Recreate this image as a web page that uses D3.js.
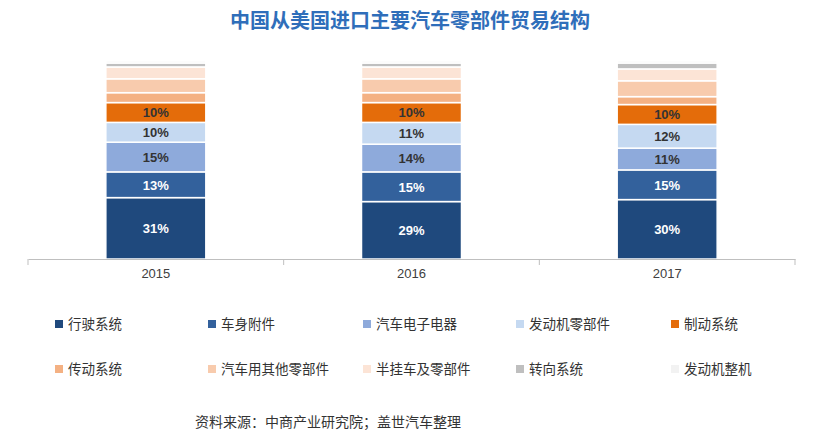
<!DOCTYPE html>
<html><head><meta charset="utf-8">
<script src="https://cdn.jsdelivr.net/npm/d3@7"></script>
<style>body{margin:0;background:#fff}svg{font-family:"Noto Sans CJK SC",sans-serif}</style>
</head><body><svg id="c" width="820" height="445"></svg>
<script>
const years = ["2015", "2016", "2017"];
const parts = ["行驶系统", "车身附件", "汽车电子电器", "发动机零部件", "制动系统", "传动系统", "汽车用其他零部件", "半挂车及零部件", "转向系统", "发动机整机"];
const colors = ["#1f497d", "#33619c", "#8eaadb", "#c5d9f1", "#e46c0a", "#f4b183", "#f8cbad", "#fce4d6", "#bfbfbf", "#f2f2f2"];
const share2015 = [31, 13, 15, 10, 10, 5, 7, 6, 2, 1];
const share2016 = [29, 15, 14, 11, 10, 5, 7, 6, 2, 1];
const share2017 = [30, 15, 11, 12, 10, 4, 8, 6, 3, 1];
const labelled = 5;

const shares = [share2015, share2016, share2017];
const svg = d3.select("#c");
svg.append("text").attr("x", 410).attr("y", 28).attr("text-anchor", "middle")
  .attr("font-size", 20).attr("font-weight", "bold").attr("fill", "#2f6eba").text("中国从美国进口主要汽车零部件贸易结构");

const x = d3.scaleBand().domain(years).range([28, 795]).paddingInner(0).paddingOuter(0);
const y = d3.scaleLinear().domain([0, 100]).range([259, 61]);
const bw = 100;

years.forEach((yr, i) => {
  let acc = 0;
  const g = svg.append("g");
  shares[i].forEach((v, k) => {
    const y0 = acc, y1 = acc + v; acc = y1;
    const cx = x(yr) + x.bandwidth() / 2;
    g.append("rect").attr("x", cx - bw / 2).attr("width", bw)
      .attr("y", y(y1)).attr("height", y(y0) - y(y1))
      .attr("fill", colors[k]).attr("stroke", "#fff").attr("stroke-width", 1.5);
    if (k < labelled) {
      g.append("text").attr("x", cx).attr("y", (y(y0) + y(y1)) / 2 + 5)
        .attr("text-anchor", "middle").attr("font-size", 13).attr("font-weight", "bold")
        .attr("font-family", "Arial, Liberation Sans, sans-serif")
        .attr("fill", k < 2 ? "#fff" : "#333").text(v + "%");
    }
  });
});

const axis = svg.append("g").attr("transform", "translate(0,259)")
  .call(d3.axisBottom(x).tickSize(0).tickPadding(10));
axis.select(".domain").attr("stroke", "#bfbfbf");
axis.selectAll("text").attr("font-size", 13).attr("fill", "#404040")
  .attr("font-family", "Arial, Liberation Sans, sans-serif");
[x("2016"), x("2017")].concat([28, 795]).forEach(t =>
  svg.append("line").attr("x1", t).attr("x2", t).attr("y1", 259).attr("y2", 265).attr("stroke", "#bfbfbf"));

const colX = [55, 208, 363, 516, 671];
parts.forEach((p, k) => {
  const lx = colX[k % 5], ly = k < 5 ? 325 : 370;
  svg.append("rect").attr("x", lx).attr("y", ly - 5).attr("width", 8).attr("height", 8).attr("fill", colors[k]);
  svg.append("text").attr("x", lx + 13).attr("y", ly + 4).attr("font-size", 13.5).attr("fill", "#333").text(p);
});

svg.append("text").attr("x", 195).attr("y", 427).attr("font-size", 14).attr("fill", "#333")
  .text("资料来源：中商产业研究院；盖世汽车整理");
</script></body></html>
